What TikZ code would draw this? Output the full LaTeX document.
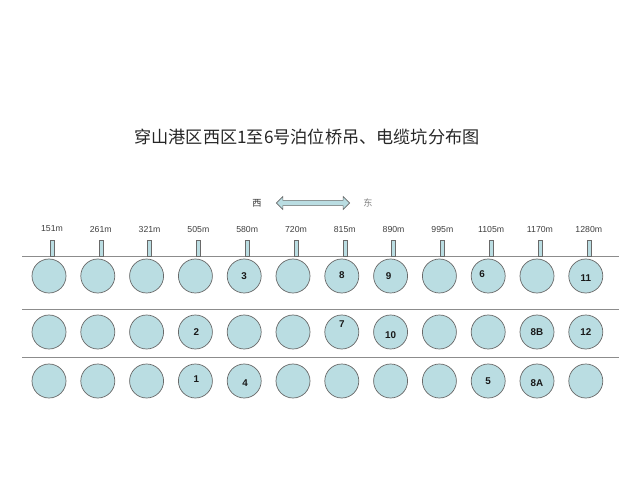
\documentclass[tikz,border=0pt]{standalone}
\usepackage{fontspec}
\setmainfont{Liberation Sans}
\newfontfamily\cjk{Noto Sans CJK SC}
\usepackage{xcolor}
\usetikzlibrary{shapes.arrows}
\definecolor{pilefill}{RGB}{186,221,226}
\definecolor{pileedge}{RGB}{105,105,105}
\definecolor{railgray}{RGB}{140,140,140}

\begin{document}
\begin{tikzpicture}[x=0.025cm,y=-0.025cm,
    every node/.style={font=\fontsize{6.2}{7}\selectfont,text=black!75},
    pile/.style={
        circle,
        draw=pileedge,
        fill=pilefill,
        line width=0.5pt,
        minimum size=0.85cm,
        inner sep=0pt
    },
    num/.style={font=\fontsize{7}{8}\selectfont\bfseries,text=black!90},
    post/.style={
        draw=pileedge,
        fill=pilefill,
        minimum width=0.1cm,
        minimum height=0.4cm,
        inner sep=0pt
    },
    rail/.style={draw=railgray,line width=0.5pt},
    side/.style={font=\cjk\fontsize{6.5}{7}\selectfont}
]
\useasboundingbox (0,0) rectangle (640,480);

% Title
\node[font=\cjk\fontsize{12.2}{14}\selectfont,text=black!85] (title) at (307,137)
{穿山港区西区1至6号泊位桥吊、电缆坑分布图};

% West / east
\node[shape=double arrow,draw=pileedge,fill=pilefill,
      inner xsep=0pt,inner ysep=0.058cm,
      minimum height=1.83cm,
      double arrow head extend=0.095cm] (dir) at (313,203) {};
\node[side,text=black!80] (west) at (257,203) {西};
\node[side,text=black!50] (east) at (368,203) {东};

% Rails
\foreach \r/\y in {1/256,2/309,3/357}{
    \coordinate (rw\r) at (22,\y);
    \coordinate (re\r) at (619,\y);
    \draw[rail] (rw\r) -- (re\r);
}

% Piles, posts and chainage
\foreach \d [count=\i] in {151,261,321,505,580,720,815,890,995,1105,1170,1280}{
    \pgfmathsetmacro{\px}{49+(\i-1)*48.8}
    \node[post] (post\i) at (\px+3,248) {};
    \node (km\i) at (\px+3,229) {\d m};
    \node[pile] (p1\i) at (\px,276) {};
    \node[pile] (p2\i) at (\px,332) {};
    \node[pile] (p3\i) at (\px,381) {};
}

% Crane / cable pit numbers
\foreach \c/\r/\t/\dx/\dy in {5/1/3/0/0, 7/1/8/0/-1, 8/1/9/-2/0, 10/1/6/-6/-2, 12/1/11/0/2,
    4/2/2/1/0, 7/2/7/0/-8, 8/2/10/0/3, 11/2/8B/0/0, 12/2/12/0/0,
    4/3/1/1/-2, 5/3/4/1/2, 10/3/5/0/0, 11/3/8A/0/2}{
    \node[num] (n\r\c) at ([shift={(\dx,\dy)}]p\r\c.center) {\t};
}

\end{tikzpicture}
\end{document}
